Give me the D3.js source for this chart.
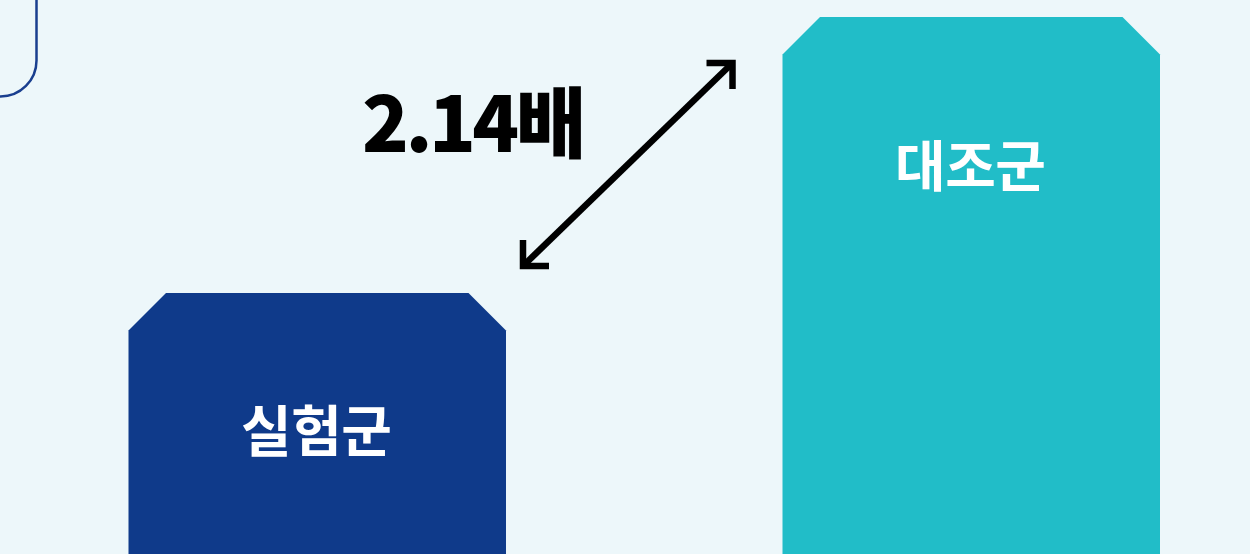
<!DOCTYPE html>
<html>
<head>
<meta charset="utf-8">
<script src="https://cdn.jsdelivr.net/npm/d3@7"></script>
<style>
  html, body { margin: 0; padding: 0; background: #edf7fa; }
  svg { display: block; font-family: "Noto Sans CJK KR", "Noto Sans", sans-serif; }
</style>
</head>
<body>
<div id="chart"></div>
<script>
(function () {
  "use strict";

  // data
  var groups = ["실험군", "대조군"];
  var values = [1, 2.14];
  var colors = ["#0f3a8a", "#21bdc8"];
  var ratioLabel = "2.14배";

  var W = 1250, H = 554;
  var svg = d3.select("#chart").append("svg")
    .attr("width", W).attr("height", H)
    .attr("viewBox", "0 0 " + W + " " + H);

  svg.append("rect").attr("width", W).attr("height", H).attr("fill", "#edf7fa");

  // partial rounded box top-left
  svg.append("rect")
    .attr("x", -80).attr("y", -60).attr("width", 116.5).attr("height", 156.5)
    .attr("rx", 36).attr("ry", 36)
    .attr("fill", "none").attr("stroke", "#1a3f8f").attr("stroke-width", 2.5);

  var x = d3.scaleBand().domain(groups).range([128.5, 1160]).paddingInner(0.4228).paddingOuter(0);
  // baseline lies below the picture; scale anchored on the two tops
  var y = d3.scaleLinear().domain([1, 2.14]).range([293, 17]);
  var cut = 37.5;

  function barPath(g, v) {
    var x0 = x(g), x1 = x(g) + x.bandwidth(), t = y(v), b = H + 5;
    return "M" + x0 + "," + b + "L" + x0 + "," + (t + cut) + "L" + (x0 + cut) + "," + t +
      "L" + (x1 - cut) + "," + t + "L" + x1 + "," + (t + cut) + "L" + x1 + "," + b + "Z";
  }

  svg.selectAll("path.bar")
    .data(groups)
    .enter().append("path")
    .attr("class", "bar")
    .attr("d", function (g, i) { return barPath(g, values[i]); })
    .attr("fill", function (g, i) { return colors[i]; });

  svg.selectAll("text.lbl")
    .data(groups)
    .enter().append("text")
    .attr("class", "lbl")
    .attr("x", function (g) { return x(g) + x.bandwidth() / 2 - 1; })
    .attr("y", function (g, i) { return y(values[i]) + (i === 0 ? 158 : 169); })
    .attr("text-anchor", "middle")
    .attr("fill", "#fff")
    .attr("font-size", 55)
    .attr("font-weight", 700)
    .attr("letter-spacing", -0.5)
    .text(function (g) { return g; });

  // double-headed arrow between the two tops
  var a = [x(groups[0]) + x.bandwidth() + 17, y(values[0]) - 27];
  var b = [x(groups[1]) - 50, y(values[1]) + 46];
  var arm = 26;
  var arrow = svg.append("g")
    .attr("fill", "none").attr("stroke", "#000").attr("stroke-width", 6.5)
    .attr("stroke-linecap", "butt").attr("stroke-linejoin", "miter");
  arrow.append("path").attr("d", "M" + a[0] + "," + a[1] + "L" + b[0] + "," + b[1]);
  arrow.append("path").attr("d", "M" + (a[0] + arm) + "," + a[1] + "L" + a[0] + "," + a[1] + "L" + a[0] + "," + (a[1] - arm));
  arrow.append("path").attr("d", "M" + (b[0] - arm) + "," + b[1] + "L" + b[0] + "," + b[1] + "L" + b[0] + "," + (b[1] + arm));

  svg.append("text")
    .attr("x", 362).attr("y", 152)
    .attr("fill", "#000")
    .attr("font-size", 77)
    .attr("font-weight", 900)
    .attr("letter-spacing", -3.5)
    .text(ratioLabel);
})();
</script>
</body>
</html>
